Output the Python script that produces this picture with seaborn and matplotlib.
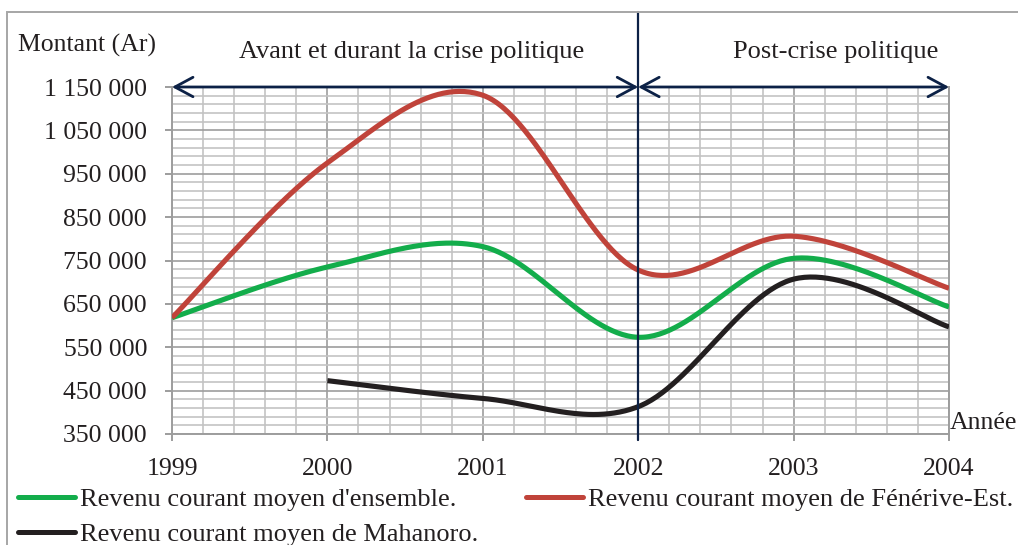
import numpy as np
import pandas as pd
import matplotlib
matplotlib.use("Agg")
import matplotlib.pyplot as plt
import matplotlib.patches as mpatches
from matplotlib.lines import Line2D
from matplotlib.ticker import FixedLocator, FuncFormatter
import seaborn as sns

# ---- data (Ariary) ----
years = [1999, 2000, 2001, 2002, 2003, 2004]
ensemble = [618000, 735000, 782000, 573000, 755000, 643000]
fenerive = [618000, 975000, 1131000, 728000, 806000, 686000]
mahanoro_years = [2000, 2001, 2002, 2003, 2004]
mahanoro = [473000, 432000, 413000, 707000, 597000]

y_ticks = [350000, 450000, 550000, 650000, 750000, 850000, 950000, 1050000, 1150000]

labels = ["Revenu courant moyen d'ensemble.",
          "Revenu courant moyen de Fénérive-Est.",
          "Revenu courant moyen de Mahanoro."]
period_labels = ["Avant et durant la crise politique", "Post-crise politique"]
crisis_year = 2002

GREEN = "#13ad4b"
RED = "#c0433a"
BLACK = "#231f20"
NAVY = "#0c2146"
TXT = "#231f20"


def smooth(xs, ys, n=60):
    """Smoothed curve through the points (cardinal Bezier spline)."""
    p = np.column_stack([xs, ys]).astype(float)
    ext = np.vstack([p[0], p, p[-1]])
    out = []
    t = np.linspace(0, 1, n)[:, None]
    for i in range(len(p) - 1):
        p0, p1 = ext[i + 1], ext[i + 2]
        c1 = p0 + (ext[i + 2] - ext[i]) / 6
        c2 = p1 - (ext[i + 3] - ext[i + 1]) / 6
        seg = ((1 - t) ** 3) * p0 + 3 * ((1 - t) ** 2) * t * c1 \
            + 3 * (1 - t) * t ** 2 * c2 + t ** 3 * p1
        out.append(seg if i == 0 else seg[1:])
    c = np.vstack(out)
    return c[:, 0], c[:, 1]


sns.set_theme(style="white")
plt.rcParams["font.family"] = ["Liberation Serif", "DejaVu Serif"]
plt.rcParams["text.color"] = TXT
FS = 18.5
FS_TXT = 19.0

fig = plt.figure(figsize=(10.18, 5.45), dpi=100)
ax = fig.add_axes([172 / 1018, 111 / 545, 777 / 1018, 347 / 545])

series = [(years, ensemble, GREEN, labels[0]),
          (years, fenerive, RED, labels[1]),
          (mahanoro_years, mahanoro, BLACK, labels[2])]
for xs, ys, col, lab in series:
    sx, sy = smooth(xs, ys)
    df = pd.DataFrame({"x": sx, "y": sy})
    sns.lineplot(data=df, x="x", y="y", color=col, lw=3.7, ax=ax,
                 sort=False, zorder=4, solid_capstyle="butt")

ax.set_xlim(years[0], years[-1])
ax.set_ylim(y_ticks[0], y_ticks[-1])
ax.set_xlabel("")
ax.set_ylabel("")

ax.xaxis.set_major_locator(FixedLocator(years))
ax.xaxis.set_minor_locator(FixedLocator(np.arange(years[0], years[-1] + 0.01, 0.2)))
ax.yaxis.set_major_locator(FixedLocator(y_ticks))
ax.yaxis.set_minor_locator(FixedLocator(np.arange(y_ticks[0], y_ticks[-1] + 1, 20000)))
ax.yaxis.set_major_formatter(FuncFormatter(lambda v, _: f"{int(round(v)):,}".replace(",", " ")))
ax.xaxis.set_major_formatter(FuncFormatter(lambda v, _: f"{int(round(v))}"))

ax.grid(which="major", color="#9d9d9d", lw=1.2, zorder=0)
ax.grid(which="minor", color="#c3c3c3", lw=1.2, zorder=0)
ax.set_axisbelow(True)

for s in ax.spines.values():
    s.set_color("#9d9d9d")
    s.set_linewidth(1.4)

ax.tick_params(which="major", axis="both", length=5, width=1.4, color="#9d9d9d",
               labelsize=FS, labelcolor=TXT, bottom=True, left=True)
ax.tick_params(axis="y", pad=13)
ax.tick_params(axis="x", pad=12)
ax.tick_params(which="minor", length=0)

# crisis marker and period arrows
ax.plot([crisis_year, crisis_year], [-0.017, 1.216], color=NAVY, lw=1.6,
        transform=ax.get_xaxis_transform(), clip_on=False, zorder=6)
top = ax.get_ylim()[1]
for x0, x1 in [(years[0], crisis_year), (crisis_year, years[-1])]:
    ax.annotate("", xy=(x0, top), xytext=(x1, top), annotation_clip=False,
                arrowprops=dict(arrowstyle="<->,head_length=0.65,head_width=0.35",
                                color=NAVY, lw=2.0, shrinkA=0, shrinkB=0,
                                mutation_scale=20), zorder=6)

ax.text(2000.54, 1.10, period_labels[0], transform=ax.get_xaxis_transform(),
        ha="center", va="center", fontsize=FS_TXT)
ax.text(2003.27, 1.10, period_labels[1], transform=ax.get_xaxis_transform(),
        ha="center", va="center", fontsize=FS_TXT)

fig.text(18 / 1018, 1 - 45 / 545, "Montant (Ar)", ha="left", va="center", fontsize=FS)
ax.text(1.001, 0.0, "Année", transform=ax.transAxes, ha="left", va="bottom", fontsize=FS)

# outer frame
fig.patches.append(mpatches.Rectangle((7 / 1018, -0.05), 1.2, 1 - 12 / 545 + 0.05,
                                      transform=fig.transFigure, fill=False,
                                      edgecolor="#a6a6a6", lw=1.4))

handles = [Line2D([], [], color=GREEN, lw=3.6, solid_capstyle="round"),
           Line2D([], [], color=BLACK, lw=3.6, solid_capstyle="round"),
           Line2D([], [], color=RED, lw=3.6, solid_capstyle="round")]
fig.legend(handles, [labels[0], labels[2], labels[1]], ncol=2, loc="upper left",
           bbox_to_anchor=(18 / 1018, 1 - 488 / 545), frameon=False, borderpad=0,
           borderaxespad=0, handlelength=2.15, handletextpad=0.2, columnspacing=1.82,
           labelspacing=0.42, fontsize=FS_TXT)

fig.savefig("out.png", dpi=100)
